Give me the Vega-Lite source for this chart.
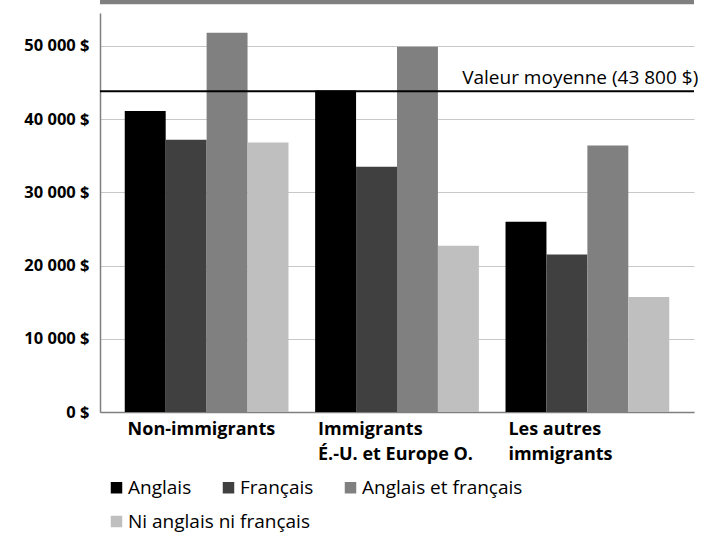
{
  "$schema": "https://vega.github.io/schema/vega-lite/v6.json",
  "width": 594,
  "height": 399,
  "autosize": {"type": "none"},
  "padding": {"left": 100, "top": 13, "right": 19, "bottom": 121},
  "background": "white",
  "config": {
    "font": "Open Sans",
    "view": {"stroke": null},
    "axis": {"labelFont": "Open Sans"},
    "legend": {"labelFont": "Open Sans"}
  },
  "data": {
    "values": [
      {"groupe": "Non-immigrants", "langue": "Anglais", "revenu": 41100},
      {"groupe": "Non-immigrants", "langue": "Français", "revenu": 37200},
      {"groupe": "Non-immigrants", "langue": "Anglais et français", "revenu": 51800},
      {"groupe": "Non-immigrants", "langue": "Ni anglais ni français", "revenu": 36800},
      {"groupe": "Immigrants|É.-U. et Europe O.", "langue": "Anglais", "revenu": 43900},
      {"groupe": "Immigrants|É.-U. et Europe O.", "langue": "Français", "revenu": 33500},
      {"groupe": "Immigrants|É.-U. et Europe O.", "langue": "Anglais et français", "revenu": 49900},
      {"groupe": "Immigrants|É.-U. et Europe O.", "langue": "Ni anglais ni français", "revenu": 22700},
      {"groupe": "Les autres|immigrants", "langue": "Anglais", "revenu": 26000},
      {"groupe": "Les autres|immigrants", "langue": "Français", "revenu": 21500},
      {"groupe": "Les autres|immigrants", "langue": "Anglais et français", "revenu": 36400},
      {"groupe": "Les autres|immigrants", "langue": "Ni anglais ni français", "revenu": 15700}
    ]
  },
  "encoding": {
    "x": {
      "field": "groupe", "type": "nominal", "sort": null,
      "scale": {"paddingInner": 0.14, "paddingOuter": 0.13},
      "axis": {
        "title": null, "labelAngle": 0, "ticks": false,
        "domainColor": "#7f7f7f", "domainWidth": 1.5,
        "labelAlign": "left", "labelOffset": -79, "labelPadding": 8,
        "labelFontSize": 18, "labelFontWeight": "bold", "labelColor": "#000000",
        "labelLineHeight": 25, "labelBaseline": "top", "labelLimit": 0,
        "labelExpr": "split(datum.label, '|')"
      }
    },
    "xOffset": {
      "field": "langue", "type": "nominal",
      "scale": {
        "domain": ["Anglais", "Français", "Anglais et français", "Ni anglais ni français"],
        "paddingInner": 0, "paddingOuter": 0
      }
    },
    "y": {
      "field": "revenu", "type": "quantitative",
      "scale": {"domain": [0, 54500], "nice": false},
      "axis": {
        "title": null, "values": [0, 10000, 20000, 30000, 40000, 50000],
        "ticks": false, "labelPadding": 11,
        "labelFontSize": 16.5, "labelFontWeight": "bold", "labelColor": "#000000",
        "domainColor": "#7f7f7f", "domainWidth": 1.5,
        "gridColor": "#c8c8c8", "gridWidth": 1.2,
        "labelExpr": "replace(format(datum.value, ',d'), ',', ' ') + ' $'"
      }
    }
  },
  "layer": [
    {
      "data": {"values": [{"bande": 56050}]},
      "mark": {"type": "rule", "color": "#808080", "strokeWidth": 5},
      "encoding": {
        "x": null, "xOffset": null,
        "y": {"field": "bande", "type": "quantitative", "scale": {"domain": [0, 54500], "nice": false}}
      }
    },
    {
      "transform": [{"filter": "datum.langue != 'Ni anglais ni français'"}],
      "mark": {"type": "bar"},
      "encoding": {
        "color": {
          "field": "langue", "type": "nominal",
          "scale": {
            "domain": ["Anglais", "Français", "Anglais et français"],
            "range": ["#000000", "#404040", "#808080"]
          },
          "legend": {
            "title": null, "orient": "none", "legendX": 7, "legendY": 465,
            "direction": "horizontal",
            "symbolType": "square", "symbolSize": 132, "symbolStrokeWidth": 0,
            "labelFontSize": 19, "labelColor": "#000000", "labelOffset": 2,
            "labelLimit": 0, "columnPadding": 27, "padding": 0
          }
        }
      }
    },
    {
      "transform": [{"filter": "datum.langue == 'Ni anglais ni français'"}],
      "mark": {"type": "bar"},
      "encoding": {
        "color": {
          "field": "langue", "type": "nominal",
          "scale": {
            "domain": ["Ni anglais ni français"],
            "range": ["#bfbfbf"]
          },
          "legend": {
            "title": null, "orient": "none", "legendX": 7, "legendY": 499,
            "direction": "horizontal",
            "symbolType": "square", "symbolSize": 132, "symbolStrokeWidth": 0,
            "labelFontSize": 19, "labelColor": "#000000", "labelOffset": 2,
            "labelLimit": 0, "padding": 0
          }
        }
      }
    },
    {
      "data": {"values": [{"moyenne": 43800, "etiquette": "Valeur moyenne (43 800 $)"}]},
      "layer": [
        {
          "mark": {"type": "rule", "color": "#000000", "strokeWidth": 2},
          "encoding": {
            "x": null, "xOffset": null,
            "y": {"field": "moyenne", "type": "quantitative", "scale": {"domain": [0, 54500], "nice": false}}
          }
        },
        {
          "mark": {"type": "text", "align": "right", "baseline": "alphabetic", "fontSize": 19, "color": "#000000", "dy": -7, "dx": 29},
          "encoding": {
            "xOffset": null,
            "y": {"field": "moyenne", "type": "quantitative", "scale": {"domain": [0, 54500], "nice": false}},
            "x": {"datum": "Les autres|immigrants", "type": "nominal", "bandPosition": 1},
            "text": {"field": "etiquette"}
          }
        }
      ]
    }
  ],
  "resolve": {"scale": {"color": "independent"}}
}
